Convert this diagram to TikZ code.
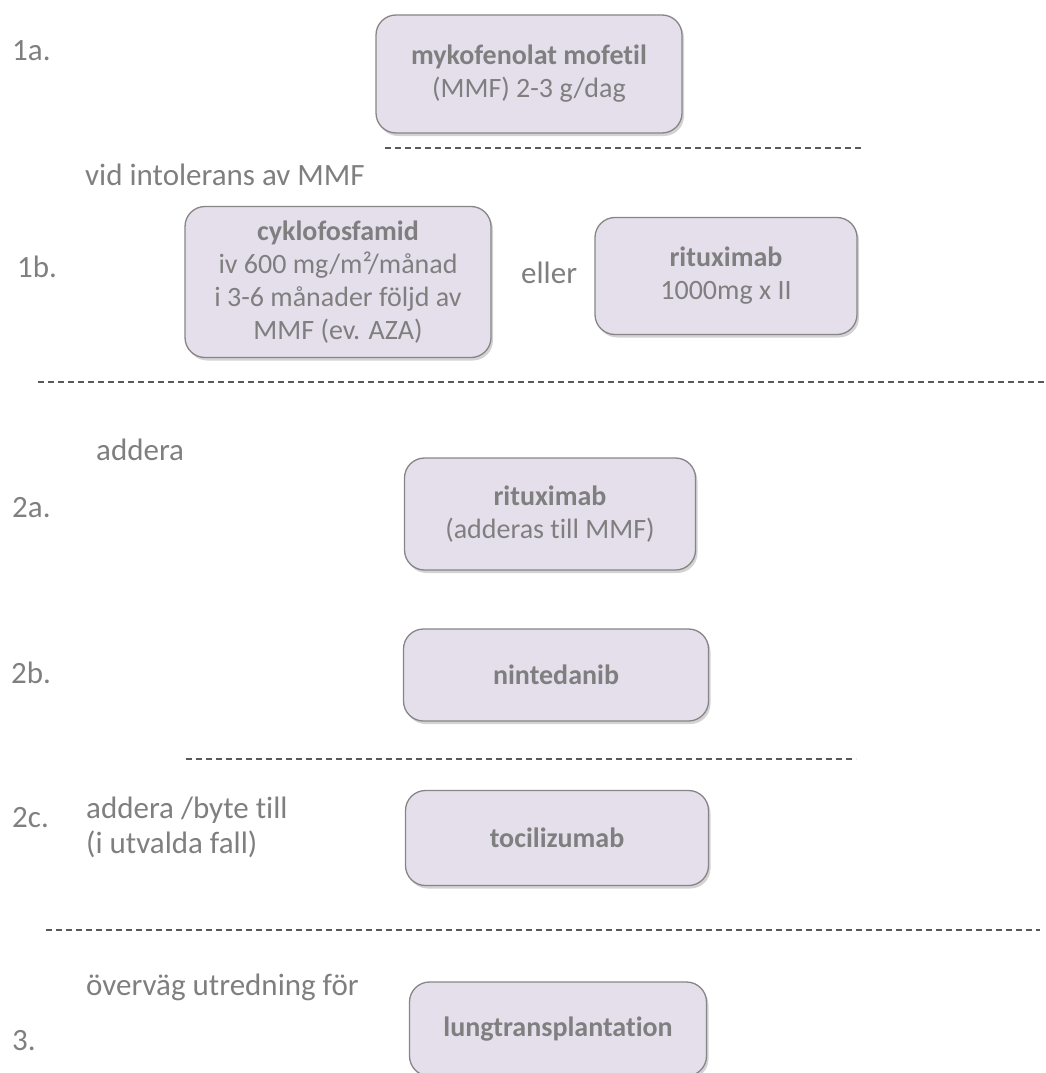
\documentclass[tikz,border=0pt]{standalone}
\usepackage{fontspec}
\setmainfont{Carlito}[Ligatures=NoCommon]
\usetikzlibrary{shadows}
\definecolor{txtgray}{HTML}{7F7F7F}
\definecolor{boxfill}{HTML}{E5DFEC}
\definecolor{boxline}{HTML}{868686}
\definecolor{sepgray}{HTML}{595959}
\begin{document}
\begin{tikzpicture}[x=1pt,y=-1pt,
			drug node/.style={rectangle,rounded corners=20pt,draw=boxline,line width=1.3pt,fill=boxfill,
				drop shadow={shadow xshift=2pt,shadow yshift=-3pt,opacity=0.35},
				text=txtgray,align=center,font=\fontsize{28}{33}\selectfont,inner sep=0pt},
			step label/.style={anchor=base west,text=txtgray,align=left,font=\fontsize{31}{35}\selectfont,inner sep=0pt},
			sep line/.style={draw=sepgray,line width=1.6pt,dash pattern=on 6pt off 4pt}
			]
			
			\useasboundingbox (0,0) rectangle (1046,1073);
			
			% behandlingssteg
			\node[drug node,minimum width=306pt,minimum height=118pt] at (529,74) (mmf) {\textbf{mykofenolat mofetil}\\(MMF) 2-3 g/dag};
			\node[drug node,minimum width=306pt,minimum height=151pt] at (338,282) (cyc) {\textbf{cyklofosfamid}\\iv 600 mg/m²/månad\\i 3-6 månader följd av\\MMF (ev. AZA)};
			\node[drug node,minimum width=262pt,minimum height=117pt] at (726,276) (rtxa) {\textbf{rituximab}\\1000mg x II};
			\node[drug node,minimum width=291pt,minimum height=112pt] at (550,514) (rtxb) {\textbf{rituximab}\\(adderas till MMF)};
			\node[drug node,minimum width=305pt,minimum height=92pt] at (556,675) (nin) {\textbf{nintedanib}};
			\node[drug node,minimum width=303pt,minimum height=95pt] at (557,838) (toc) {\textbf{tocilizumab}};
			\node[drug node,minimum width=297pt,minimum height=94pt] at (558,1029) (ltx) {\textbf{lungtransplantation}};
			
			% etiketter (baslinje sista raden)
			\node[step label] at (12,61) (l1a) {1a.};
			\node[step label] at (85,185) (vid) {vid intolerans av MMF};
			\node[step label] at (17,277) (l1b) {1b.};
			\node[step label] at (521,283) (eller) {eller};
			\node[step label] at (96,460) (add) {addera};
			\node[step label] at (12,517) (l2a) {2a.};
			\node[step label] at (11,683) (l2b) {2b.};
			\node[step label] at (12,827) (l2c) {2c.};
			\node[step label] at (86,853) (byt) {addera /byte till\\(i utvalda fall)};
			\node[step label] at (86,995) (ovv) {överväg utredning för};
			\node[step label] at (12,1050) (l3) {3.};
			
			% avgränsningar
			\coordinate (s1a) at (385,148);  \coordinate (s1b) at (862,148);
			\coordinate (s2a) at (38,382);   \coordinate (s2b) at (1046,382);
			\coordinate (s3a) at (186,759);  \coordinate (s3b) at (856,759);
			\coordinate (s4a) at (46,930);   \coordinate (s4b) at (1040,930);
			\foreach \s in {1,...,4} {
				\draw[sep line] (s\s a) -- (s\s b);
			}
			\end{tikzpicture}
\end{document}
